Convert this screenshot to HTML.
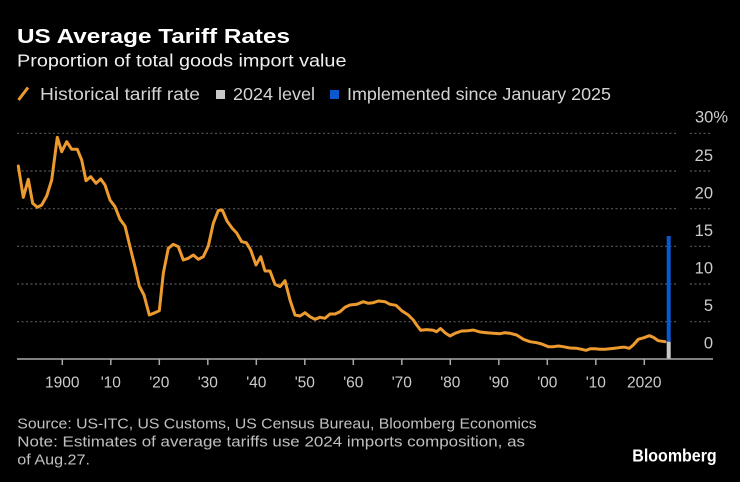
<!DOCTYPE html>
<html>
<head>
<meta charset="utf-8">
<style>
html,body{margin:0;padding:0;background:#000;}
svg{display:block;}
text{font-family:"Liberation Sans",sans-serif;}
</style>
</head>
<body>
<svg width="740" height="482" viewBox="0 0 740 482" xmlns="http://www.w3.org/2000/svg">
<rect x="0" y="0" width="740" height="482" fill="#000"/>

<!-- Title & subtitle -->
<text x="17" y="43" font-size="20" font-weight="bold" fill="#ffffff" textLength="273" lengthAdjust="spacingAndGlyphs">US Average Tariff Rates</text>
<text x="17" y="66.5" font-size="17.5" fill="#f0f0f0" textLength="329.5" lengthAdjust="spacingAndGlyphs">Proportion of total goods import value</text>

<!-- Legend -->
<line x1="18.5" y1="100" x2="28" y2="87.5" stroke="#ED9A2F" stroke-width="3" stroke-linecap="butt"/>
<text x="40" y="100" font-size="17.5" fill="#d4d4d4" textLength="160" lengthAdjust="spacingAndGlyphs">Historical tariff rate</text>
<rect x="216" y="90" width="9" height="9" fill="#c8c8c8"/>
<text x="233" y="100" font-size="17.5" fill="#d4d4d4" textLength="82" lengthAdjust="spacingAndGlyphs">2024 level</text>
<rect x="330" y="90" width="9" height="9" fill="#0b57d0"/>
<text x="347" y="100" font-size="17.5" fill="#d4d4d4" textLength="264" lengthAdjust="spacingAndGlyphs">Implemented since January 2025</text>

<!-- Gridlines -->
<g stroke="#5a5a5a" stroke-width="1.2" stroke-dasharray="2 2.5">
  <line x1="17" y1="133.3" x2="678" y2="133.3"/>
  <line x1="17" y1="171" x2="678" y2="171"/>
  <line x1="17" y1="208.7" x2="678" y2="208.7"/>
  <line x1="17" y1="246.3" x2="678" y2="246.3"/>
  <line x1="17" y1="284" x2="678" y2="284"/>
  <line x1="17" y1="321.7" x2="678" y2="321.7"/>
  <line x1="690" y1="133.3" x2="712" y2="133.3"/>
  <line x1="690" y1="171" x2="712" y2="171"/>
  <line x1="690" y1="208.7" x2="712" y2="208.7"/>
  <line x1="690" y1="246.3" x2="712" y2="246.3"/>
  <line x1="690" y1="284" x2="712" y2="284"/>
  <line x1="690" y1="321.7" x2="712" y2="321.7"/>
</g>

<!-- Y labels -->
<g font-size="16.5" fill="#cccccc">
  <text x="695" y="122.7">30%</text>
  <text x="713" y="161" text-anchor="end">25</text>
  <text x="713" y="198.7" text-anchor="end">20</text>
  <text x="713" y="236" text-anchor="end">15</text>
  <text x="713" y="273.3" text-anchor="end">10</text>
  <text x="713" y="311" text-anchor="end">5</text>
  <text x="713" y="348.3" text-anchor="end">0</text>
</g>

<!-- Bars -->
<rect x="666.7" y="236" width="4" height="105.7" fill="#0b57d0"/>
<rect x="666.7" y="341.7" width="4" height="17.3" fill="#c8c8c8"/>

<!-- Historical line -->
<polyline fill="none" stroke="#ED9A2F" stroke-width="3" stroke-linejoin="round" stroke-linecap="round" points="
18.3,166 23.3,197.3 28.3,179.3 32.7,203.3 37.3,207.3 41.7,205 46.7,196 51.7,180 57.3,137.3 61.7,151.7 66.7,141.7 71.7,149.3 77.3,149.3 81.7,160 86,180.7 90.7,176.7 96,183.3 100.7,179 105,185 110,200 115,206.7 120,219.3 125,226 130,246.7 135,266.7 139.3,286 144,295 149.3,315 155,312.7 159.3,310.7 163.3,273.3 168.3,248.3 173.3,244.3 178.3,246.7 183.3,260 188.3,258.3 193.3,255 198.3,259.3 203.3,256.7 208.3,246 213.3,223.3 218.3,210.5 222.3,210 227,221 232,228 236.7,233 241.7,241.7 246.3,242.7 250.7,250 256,265 260.7,256.7 265,271 270,271 275,284.3 280,286.7 285,280.7 290,300 295,315 300,316 305,312.7 310,316.7 315,319.3 320,317.3 325,318.3 330,314 335,314 340,311.7 345,307.3 350,305 356.7,304.3 363.3,301.7 368.3,303.3 373.3,302.7 378.3,301 385,301.7 390,304.3 396,305.3 401.7,310.7 408.3,315 413.3,320 416.7,325 420.7,330.3 426.7,329.6 433.3,330.3 436.5,331.7 440.5,328.5 445,332.7 450,336 455,333.3 461.7,331 468.3,330.7 473.3,330 480,332 486.7,332.7 493.3,333.3 500,333.7 505,332.7 510,333.3 516.7,335 523.3,339.3 530,341.7 536.7,342.7 541.7,344 548.3,346.7 553.3,346.7 558.3,346 563.3,346.7 570,348 576.7,348.3 581.7,349.3 586,350.3 590.7,348.7 595,348.7 600,349.3 605,349.3 610,348.7 616.7,348 621.7,347.3 625,347.3 629.3,348.3 633.3,345 638.3,339.3 644,337.7 649.3,335.7 653.3,337.3 658.3,340.7 665,341.7"/>

<!-- X axis -->
<line x1="17" y1="359" x2="713" y2="359" stroke="#aaaaaa" stroke-width="1.5"/>
<g stroke="#aaaaaa" stroke-width="1.5">
  <line x1="62.3" y1="359" x2="62.3" y2="365"/>
  <line x1="110.8" y1="359" x2="110.8" y2="365"/>
  <line x1="159.3" y1="359" x2="159.3" y2="365"/>
  <line x1="207.8" y1="359" x2="207.8" y2="365"/>
  <line x1="256.3" y1="359" x2="256.3" y2="365"/>
  <line x1="304.8" y1="359" x2="304.8" y2="365"/>
  <line x1="353.3" y1="359" x2="353.3" y2="365"/>
  <line x1="401.8" y1="359" x2="401.8" y2="365"/>
  <line x1="450.3" y1="359" x2="450.3" y2="365"/>
  <line x1="498.8" y1="359" x2="498.8" y2="365"/>
  <line x1="547.3" y1="359" x2="547.3" y2="365"/>
  <line x1="595.8" y1="359" x2="595.8" y2="365"/>
  <line x1="644.3" y1="359" x2="644.3" y2="365"/>
</g>
<g font-size="15.5" fill="#cccccc" text-anchor="middle">
  <text x="62.3" y="387.5">1900</text>
  <text x="110.8" y="387.5">'10</text>
  <text x="159.3" y="387.5">'20</text>
  <text x="207.8" y="387.5">'30</text>
  <text x="256.3" y="387.5">'40</text>
  <text x="304.8" y="387.5">'50</text>
  <text x="353.3" y="387.5">'60</text>
  <text x="401.8" y="387.5">'70</text>
  <text x="450.3" y="387.5">'80</text>
  <text x="498.8" y="387.5">'90</text>
  <text x="547.3" y="387.5">'00</text>
  <text x="595.8" y="387.5">'10</text>
  <text x="644.3" y="387.5">2020</text>
</g>

<!-- Footer -->
<g font-size="15" fill="#c0c0c0">
  <text x="17.3" y="428.3" textLength="519.4" lengthAdjust="spacingAndGlyphs">Source: US-ITC, US Customs, US Census Bureau, Bloomberg Economics</text>
  <text x="17.3" y="446.7" textLength="507.7" lengthAdjust="spacingAndGlyphs">Note: Estimates of average tariffs use 2024 imports composition, as</text>
  <text x="17.3" y="464.3" textLength="72.7" lengthAdjust="spacingAndGlyphs">of Aug.27.</text>
</g>
<text x="632.3" y="461.7" font-size="17.5" font-weight="bold" fill="#ffffff" textLength="84.4" lengthAdjust="spacingAndGlyphs">Bloomberg</text>
</svg>
</body>
</html>
